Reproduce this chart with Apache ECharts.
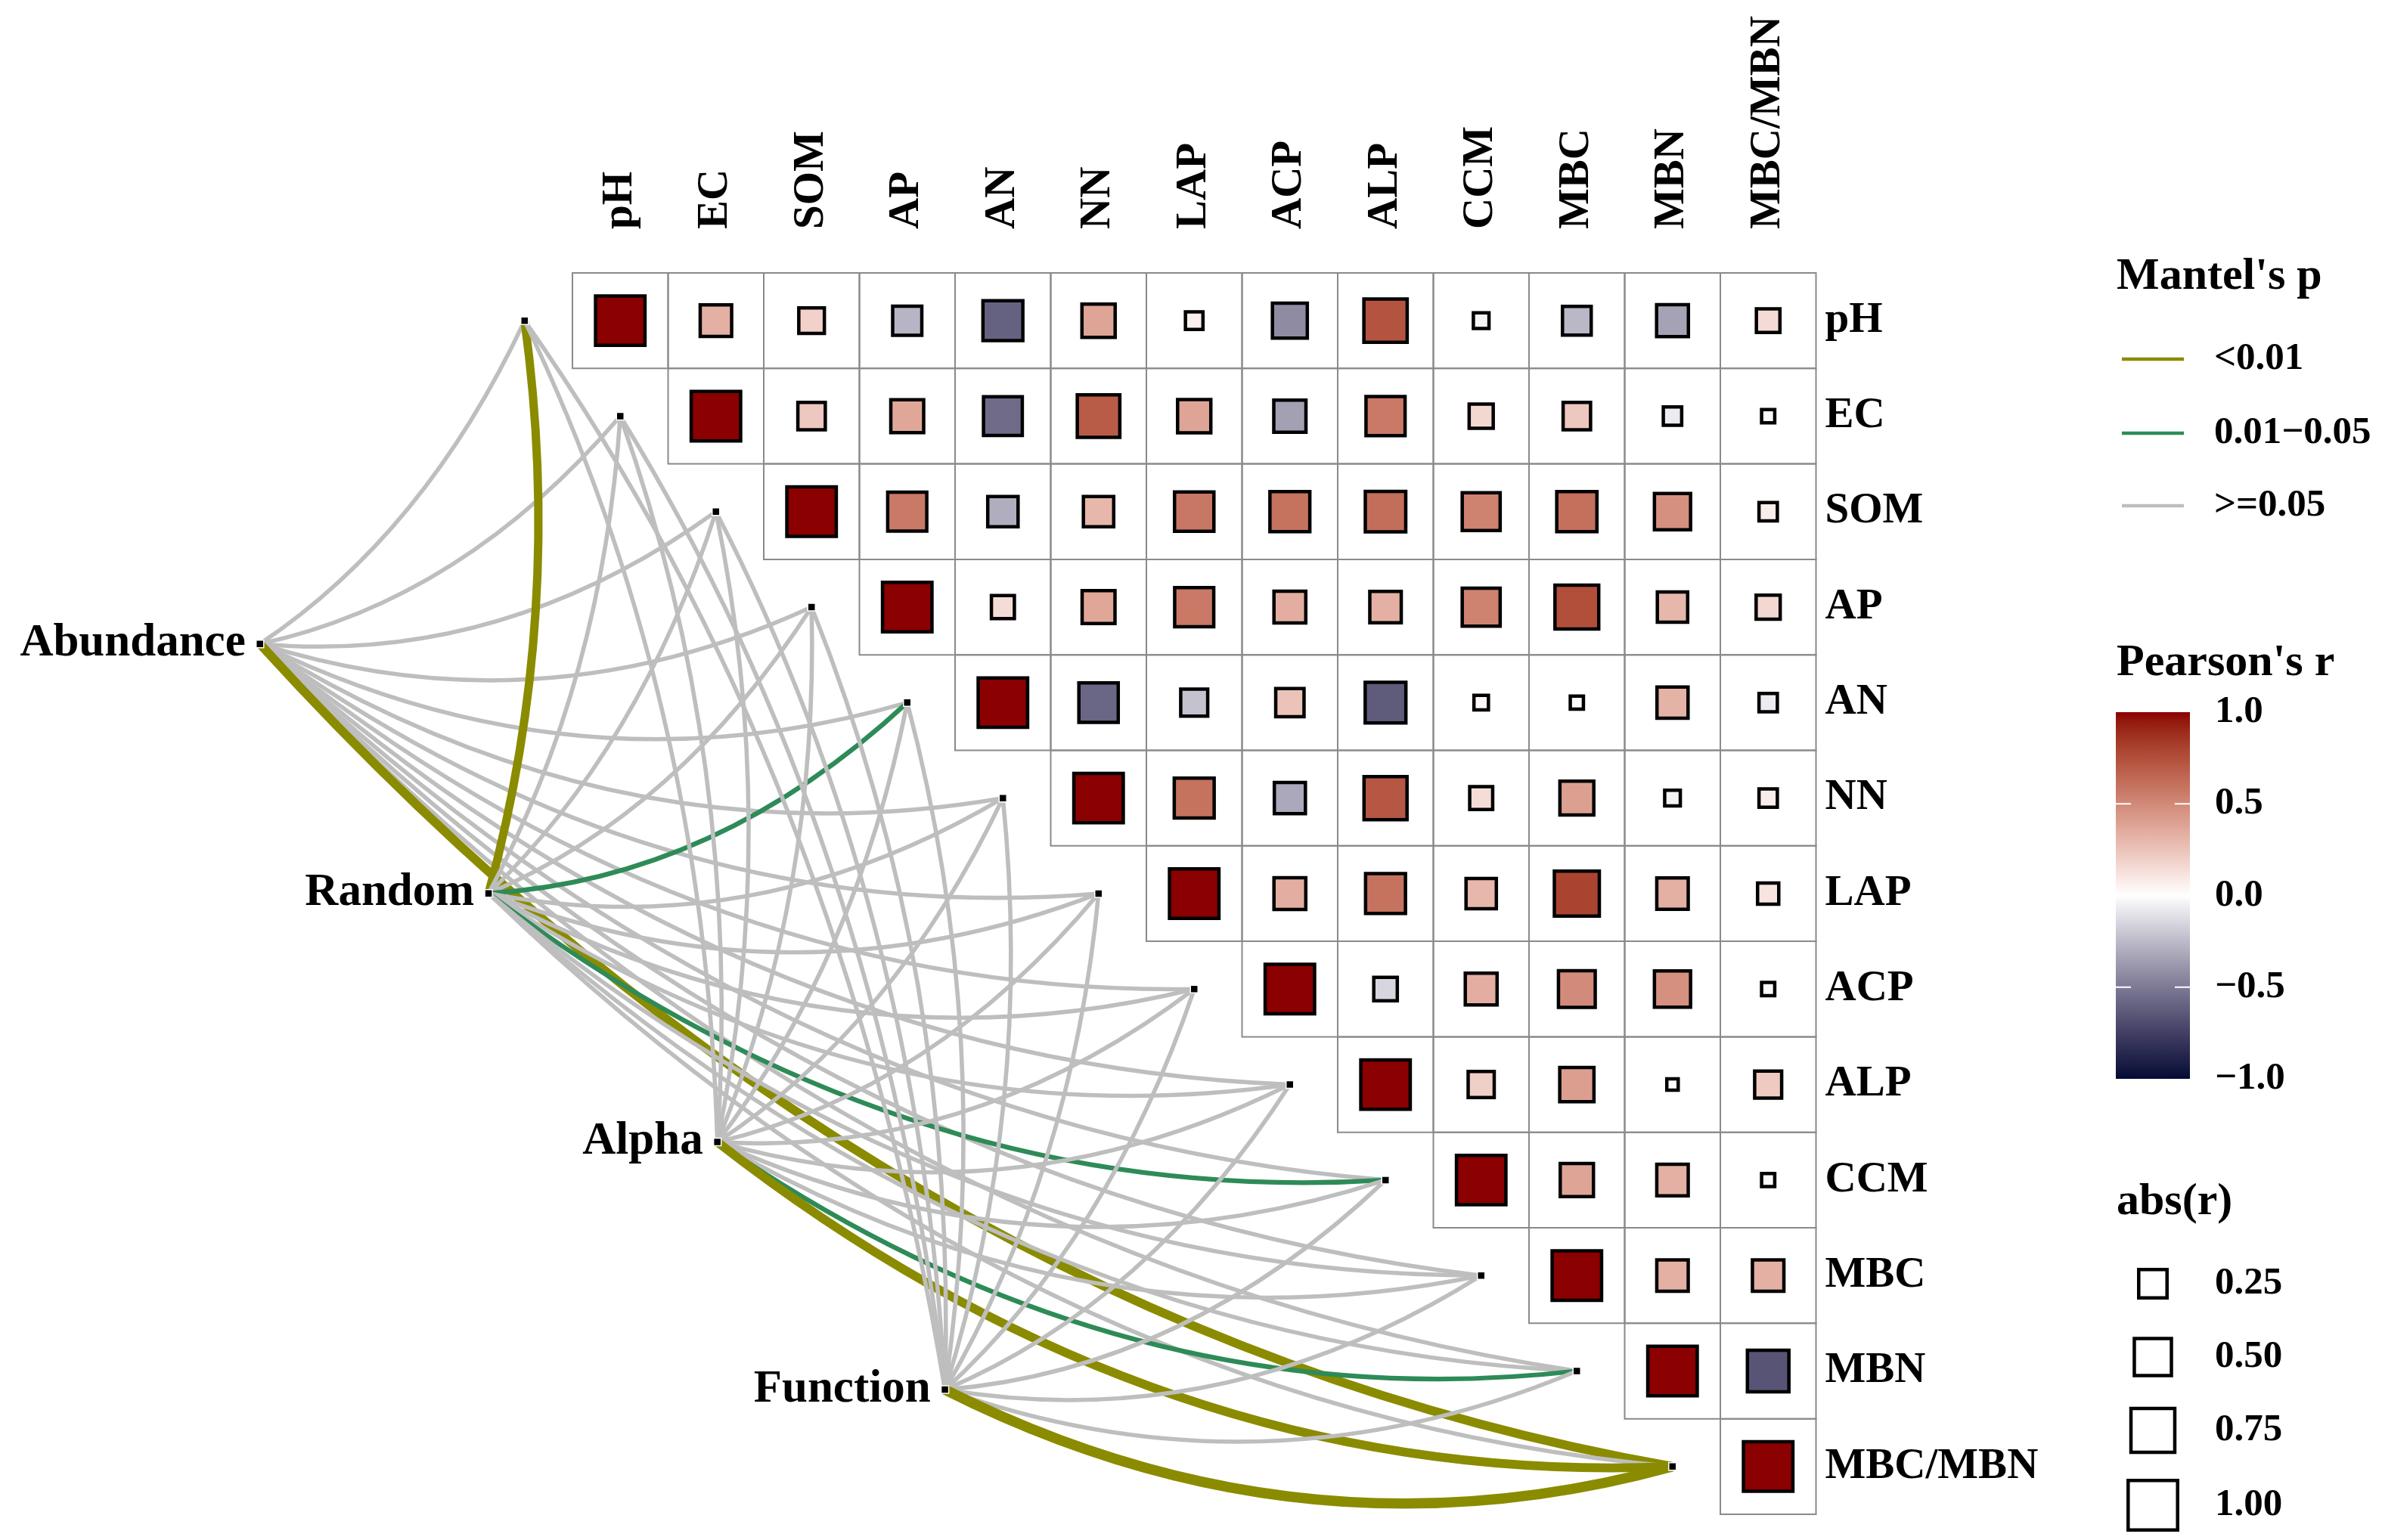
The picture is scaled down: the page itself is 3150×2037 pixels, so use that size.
<!DOCTYPE html>
<html><head><meta charset="utf-8">
<script src="https://cdn.jsdelivr.net/npm/echarts@6/dist/echarts.min.js"></script>
<style>html,body{margin:0;padding:0;background:#fff}#chart{width:3150px;height:2037px}</style>
</head><body><div id="chart"></div>
<script>
// ---------------- DATA ----------------
const variables = ['pH','EC','SOM','AP','AN','NN','LAP','ACP','ALP','CCM','MBC','MBN','MBC/MBN'];
// Pearson's r, upper triangle; each row starts at its diagonal cell
const r_pH     = [1, 0.33, 0.19, -0.27, -0.60, 0.38, 0.06, -0.43, 0.73, -0.04, -0.26, -0.34, 0.15];
const r_EC     = [1, 0.23, 0.37, -0.56, 0.70, 0.38, -0.35, 0.57, 0.16, 0.23, -0.07, 0.02];
const r_SOM    = [1, 0.57, -0.30, 0.30, 0.58, 0.60, 0.62, 0.53, 0.61, 0.47, 0.07];
const r_AP     = [1, 0.14, 0.37, 0.57, 0.34, 0.33, 0.53, 0.75, 0.30, 0.16];
const r_AN     = [1, -0.58, -0.22, 0.25, -0.63, 0.03, 0.02, 0.32, -0.07];
const r_NN     = [1, 0.60, -0.32, 0.72, 0.14, 0.40, -0.04, 0.07];
const r_LAP    = [1, 0.34, 0.60, 0.30, 0.80, 0.33, 0.11];
const r_ACP    = [1, -0.15, 0.34, 0.49, 0.47, 0.02];
const r_ALP    = [1, 0.20, 0.41, 0.01, 0.22];
const r_CCM    = [1, 0.38, 0.33, 0.02];
const r_MBC    = [1, 0.33, 0.33];
const r_MBN    = [1, -0.66];
const r_MBCMBN = [1];

const groups = ['Abundance','Random','Alpha','Function'];
// Mantel's p class per variable: 0 = <0.01, 1 = 0.01-0.05, 2 = >=0.05
const p_Abundance = [2,2,2,2,2,2,2,2,2,2,2,2,0];
const p_Random    = [0,2,2,2,1,2,2,2,2,1,2,2,2];
const p_Alpha     = [2,2,2,2,2,2,2,2,2,2,2,1,0];
const p_Function  = [2,2,2,2,2,2,2,2,2,2,2,2,0];
// Mantel's r per variable (drives link width)
const mr_Abundance = [0.14,0.14,0.14,0.14,0.14,0.14,0.14,0.14,0.14,0.14,0.14,0.14,0.42];
const mr_Random    = [0.39,0.14,0.14,0.14,0.17,0.14,0.14,0.14,0.14,0.17,0.14,0.14,0.14];
const mr_Alpha     = [0.14,0.14,0.14,0.14,0.14,0.14,0.14,0.14,0.14,0.14,0.14,0.17,0.42];
const mr_Function  = [0.14,0.14,0.14,0.14,0.14,0.14,0.14,0.14,0.14,0.14,0.14,0.14,0.50];

const pLabels = ['<0.01', '0.01\u22120.05', '>=0.05'];
const colorTicks = [1.0, 0.5, 0.0, -0.5, -1.0];
const sizeTicks = [0.25, 0.50, 0.75, 1.00];

// ---------------- LAYOUT / STYLE ----------------
const corrRows = [r_pH, r_EC, r_SOM, r_AP, r_AN, r_NN, r_LAP, r_ACP, r_ALP, r_CCM, r_MBC, r_MBN, r_MBCMBN];
const pRows = [p_Abundance, p_Random, p_Alpha, p_Function];
const mrRows = [mr_Abundance, mr_Random, mr_Alpha, mr_Function];
const nodePos = [[-3.267, 3.885], [-0.877, 6.498], [1.515, 9.102], [3.894, 11.695]];
const FONT = '"Liberation Serif","Times New Roman",serif';
const P_COLORS = ['#8B8B00', '#2E8B57', '#BEBEBE'];
const HIGH = '#8B0000', LOW = '#050A36', MID = '#FFFFFF';

// Lab interpolation
function hex2rgb(h){h=h.replace('#','');return [parseInt(h.substr(0,2),16),parseInt(h.substr(2,2),16),parseInt(h.substr(4,2),16)];}
function s2l(c){c/=255;return c<=0.04045?c/12.92:Math.pow((c+0.055)/1.055,2.4);}
function l2s(c){c=c<=0.0031308?12.92*c:1.055*Math.pow(c,1/2.4)-0.055;return Math.round(Math.max(0,Math.min(1,c))*255);}
function rgb2lab(rgb){const R=s2l(rgb[0]),G=s2l(rgb[1]),B=s2l(rgb[2]);
  const X=(0.4124*R+0.3576*G+0.1805*B)/0.95047,Y=(0.2126*R+0.7152*G+0.0722*B),Z=(0.0193*R+0.1192*G+0.9505*B)/1.08883;
  const f=t=>t>0.008856?Math.cbrt(t):7.787*t+16/116;
  return [116*f(Y)-16,500*(f(X)-f(Y)),200*(f(Y)-f(Z))];}
function lab2hex(lab){const fy=(lab[0]+16)/116,fx=fy+lab[1]/500,fz=fy-lab[2]/200;
  const fi=t=>t*t*t>0.008856?t*t*t:(t-16/116)/7.787;
  const X=fi(fx)*0.95047,Y=fi(fy),Z=fi(fz)*1.08883;
  const R=3.2406*X-1.5372*Y-0.4986*Z,G=-0.9689*X+1.8758*Y+0.0415*Z,B=0.0557*X-0.2040*Y+1.0570*Z;
  return '#'+[l2s(R),l2s(G),l2s(B)].map(v=>v.toString(16).padStart(2,'0')).join('');}
const labHigh=rgb2lab(hex2rgb(HIGH)),labLow=rgb2lab(hex2rgb(LOW)),labMid=rgb2lab(hex2rgb(MID));
function colorOf(v){const t=Math.min(1,Math.abs(v));const end=v>=0?labHigh:labLow;
  return lab2hex([0,1,2].map(k=>labMid[k]+(end[k]-labMid[k])*t));}

// ---------------- BUILD SERIES DATA ----------------
const cellData = [], squareData = [];
corrRows.forEach((row, i) => row.forEach((v, k) => { cellData.push([i + k, i]); squareData.push([i + k, i, v]); }));
const linkData = [];
pRows.forEach((row, g) => row.forEach((p, t) => linkData.push([g, t, p, mrRows[g][t]])));
const dotData = variables.map((_, i) => [i - 0.5, i + 0.5]).concat(nodePos.map(p => [p[0], p[1]]));
const labelData = variables.map((_, i) => [i, i]);
const nodeLabelData = groups.map((_, g) => [g, g]);

const K = 1.38, CURV = 0.14;

const option = {
  animation: false,
  backgroundColor: '#ffffff',
  grid: { left: 61.25, top: 108.4, width: 2340.25, height: 1919.8, show: false },
  xAxis: { type: 'value', min: -5.5, max: 13, show: false },
  yAxis: { type: 'value', min: -2, max: 13.2, inverse: true, show: false },
  series: [
    { type: 'custom', data: cellData, z: 1,
      renderItem: (params, api) => {
        const p = api.coord([api.value(0), api.value(1)]);
        const s = api.size([1, 1]);
        return { type: 'rect', shape: { x: p[0], y: p[1], width: Math.abs(s[0]), height: Math.abs(s[1]) },
          style: { fill: 'none', stroke: '#8a8a8a', lineWidth: 2 } };
      } },
    { type: 'custom', data: squareData, z: 2,
      renderItem: (params, api) => {
        const v = api.value(2);
        const c = api.coord([api.value(0) + 0.5, api.value(1) + 0.5]);
        const s = api.size([1, 1]); const cs = Math.min(Math.abs(s[0]), Math.abs(s[1]));
        const a = cs * (0.075 + 0.4427 * Math.sqrt(Math.abs(v)));
        return { type: 'rect', shape: { x: c[0] - a / 2, y: c[1] - a / 2, width: a, height: a },
          style: { fill: colorOf(v), stroke: '#000', lineWidth: 4.5 } };
      } },
    { type: 'custom', data: linkData, z: 3,
      renderItem: (params, api) => {
        const g = api.value(0), t = api.value(1), p = api.value(2), mr = api.value(3);
        const a = api.coord(nodePos[g]);
        const b = api.coord([t - 0.5, t + 0.5]);
        const dx = b[0] - a[0], dy = b[1] - a[1];
        const cx = (a[0] + b[0]) / 2 + CURV * (-dy / K), cy = (a[1] + b[1]) / 2 + CURV * (dx * K);
        return { type: 'bezierCurve', shape: { x1: a[0], y1: a[1], x2: b[0], y2: b[1], cpx1: cx, cpy1: cy },
          style: { fill: 'none', stroke: P_COLORS[p], lineWidth: 2.5 + 22 * mr } };
      } },
    { type: 'scatter', data: dotData, z: 5, symbol: 'rect', symbolSize: 10,
      itemStyle: { color: '#000', borderColor: '#fff', borderWidth: 1.5, opacity: 1 }, silent: true },
    { type: 'custom', data: labelData, z: 6,
      renderItem: (params, api) => {
        const i = api.value(0);
        const top = api.coord([i + 0.5, 0]);
        const right = api.coord([13, i + 0.5]);
        return { type: 'group', children: [
          { type: 'text', x: top[0], y: top[1] - 58, rotation: Math.PI / 2,
            style: { text: variables[i], font: `bold 57px ${FONT}`, fill: '#000', align: 'left', verticalAlign: 'middle' } },
          { type: 'text', x: right[0] + 12, y: right[1],
            style: { text: variables[i], font: `bold 57px ${FONT}`, fill: '#000', align: 'left', verticalAlign: 'middle' } }
        ] };
      } },
    { type: 'custom', data: nodeLabelData, z: 6,
      renderItem: (params, api) => {
        const g = api.value(0);
        const p = api.coord(nodePos[g]);
        return { type: 'text', x: p[0] - 19, y: p[1],
          style: { text: groups[g], font: `bold 61px ${FONT}`, fill: '#000', align: 'right', verticalAlign: 'middle' } };
      } }
  ],
  graphic: []
};

// ---------------- LEGENDS ----------------
const G = option.graphic;
function txt(x, y, text, size) {
  return { type: 'text', x, y, style: { text, font: `bold ${size}px ${FONT}`, fill: '#000', align: 'left', verticalAlign: 'middle' } };
}
G.push(txt(2799, 366, "Mantel's p", 60));
const pY = [475, 573, 669];
pLabels.forEach((lab, i) => {
  G.push({ type: 'line', shape: { x1: 2806, y1: pY[i], x2: 2888, y2: pY[i] }, style: { stroke: P_COLORS[i], lineWidth: 4.5 } });
  G.push(txt(2928, pY[i], lab, 51));
});
G.push(txt(2799, 877, "Pearson's r", 60));
const barTop = 942, barH = 485, barX = 2798, barW = 98;
const stops = [];
for (let k = 0; k <= 40; k++) { const v = 1 - k / 20; stops.push({ offset: k / 40, color: colorOf(v) }); }
G.push({ type: 'rect', shape: { x: barX, y: barTop, width: barW, height: barH },
  style: { fill: new echarts.graphic.LinearGradient(0, 0, 0, 1, stops) } });
colorTicks.forEach(v => {
  const y = barTop + (1 - v) / 2 * barH;
  if (Math.abs(v) < 1) {
    G.push({ type: 'line', shape: { x1: barX, y1: y, x2: barX + 20, y2: y }, style: { stroke: '#fff', lineWidth: 2 } });
    G.push({ type: 'line', shape: { x1: barX + barW - 20, y1: y, x2: barX + barW, y2: y }, style: { stroke: '#fff', lineWidth: 2 } });
  }
  const s = v.toFixed(1).replace('-', '\u2212');
  G.push(txt(2929, y, s, 51));
});
G.push(txt(2799, 1590, 'abs(r)', 60));
const sY = [1698, 1795, 1892, 1991];
sizeTicks.forEach((v, i) => {
  const a = 126.4 * (0.075 + 0.4427 * Math.sqrt(v));
  G.push({ type: 'rect', shape: { x: 2847 - a / 2, y: sY[i] - a / 2, width: a, height: a },
    style: { fill: '#fff', stroke: '#000', lineWidth: 4.5 } });
  G.push(txt(2929, sY[i], v.toFixed(2), 51));
});

const chart = echarts.init(document.getElementById('chart'), null, { renderer: 'canvas', width: 3150, height: 2037 });
chart.setOption(option);
</script></body></html>
